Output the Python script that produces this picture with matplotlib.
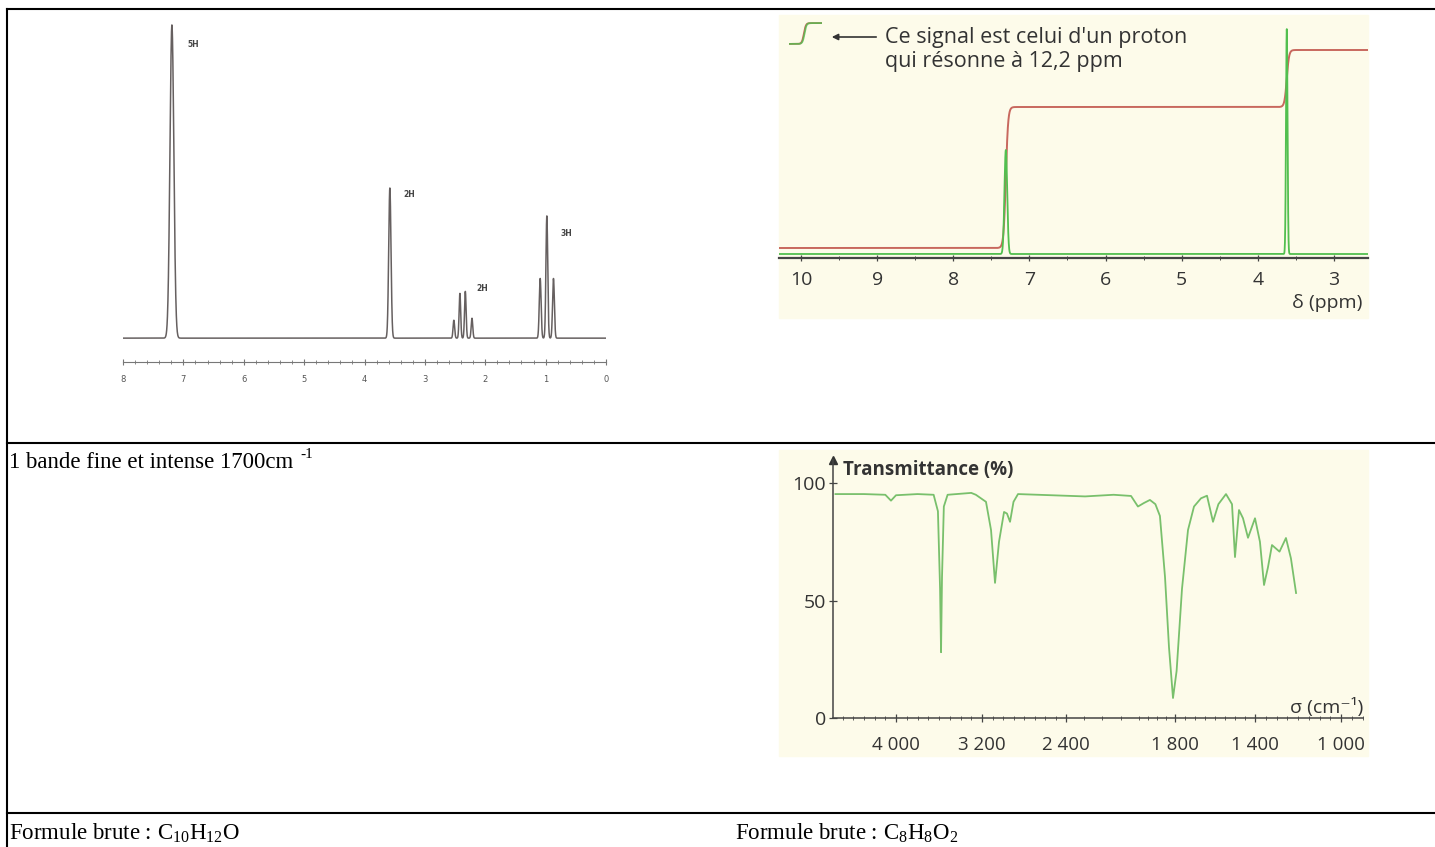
import numpy as np
import matplotlib
matplotlib.use("Agg")
import matplotlib.pyplot as plt
from matplotlib.patches import Rectangle
from matplotlib.ticker import FixedLocator, MultipleLocator

plt.rcParams["mathtext.fontset"] = "custom"
plt.rcParams["mathtext.rm"] = "Liberation Serif"
plt.rcParams["mathtext.it"] = "Liberation Serif:italic"

# --- NMR spectrum 1 (C10H12O) : peak positions (ppm) and heights
nmr1_ppm = [7.19, 3.58, 2.52, 2.42, 2.33, 2.22, 1.09, 0.98, 0.87]
nmr1_height = [315, 151, 18, 45, 47, 20, 60, 123, 60]
nmr1_width = [0.032, 0.019, 0.013, 0.013, 0.013, 0.013, 0.015, 0.015, 0.015]
nmr1_labels = ["5H", "2H", "2H", "3H"]
nmr1_label_ppm = [6.84, 3.26, 2.05, 0.65]
nmr1_label_h = [295, 144, 50, 105]

# --- NMR spectrum 2 (C8H8O2) : peaks and integration levels
nmr2_ppm = [7.31, 3.62]
nmr2_height = [104, 225]
nmr2_width = [0.018, 0.010]
nmr2_base = 4
nmr2_levels = [10, 151, 208]
nmr2_ticks = [10, 9, 8, 7, 6, 5, 4, 3]

# --- IR spectrum (C8H8O2) : wavenumber (cm-1) / transmittance (%)
ir_sigma = [4567, 4300, 4100, 4047, 4000, 3800, 3650, 3610, 3590, 3581, 3572,
            3555, 3520, 3300, 3257, 3162, 3114, 3076, 3038, 2990, 2962, 2933,
            2900, 2857, 2295, 2138, 2042, 2004, 1971, 1938, 1908, 1883, 1855,
            1833, 1811, 1792, 1765, 1735, 1705, 1670, 1640, 1610, 1583, 1545,
            1515, 1500, 1480, 1460, 1435, 1400, 1377, 1358, 1340, 1321, 1286,
            1256, 1233, 1209]
ir_trans = [95.3, 95.3, 95.0, 92.5, 94.8, 95.3, 95.0, 88, 55, 28, 60,
            90, 95, 95.8, 95, 92, 80, 57.5, 75, 87.7, 87, 83.5,
            92, 95.3, 94.3, 95, 94.5, 90, 91.5, 92.8, 91, 86, 60,
            30, 8.5, 20, 55, 80, 90, 93.5, 94.6, 83.5, 91, 95.3,
            91, 68.5, 88.5, 85, 76.7, 85, 75, 56.6, 64, 73.6, 70.8,
            76.6, 68, 53.2]
ir_labels = [4000, 3200, 2400, 1800, 1400, 1000]

W, H = 1435, 847
fig = plt.figure(figsize=(W / 100, H / 100), dpi=100)
bg = fig.add_axes([0, 0, 1, 1])
bg.set_xlim(0, W)
bg.set_ylim(H, 0)
bg.axis("off")


def px_axes(x0, y0, x1, y1):
    ax = fig.add_axes([x0 / W, 1 - y1 / H, (x1 - x0) / W, (y1 - y0) / H])
    ax.patch.set_alpha(0)
    for s in ["top", "left", "right"]:
        ax.spines[s].set_visible(False)
    ax.set_yticks([])
    return ax


# table lines
lw_tab = 1.5
bg.plot([7, W], [9, 9], color="black", lw=lw_tab)
bg.plot([7, 7], [9, H], color="black", lw=lw_tab)
bg.plot([7, W], [443, 443], color="black", lw=lw_tab)
bg.plot([7, W], [813, 813], color="black", lw=lw_tab)

serif = "Liberation Serif"
bg.text(9, 462, "1 bande fine et intense 1700cm", fontsize=16.5,
        family=serif, va="center", ha="left")
bg.text(300, 455, "-1", fontsize=11, family=serif, va="center", ha="left")
bg.text(9, 833, r"Formule brute : C$_{10}$H$_{12}$O", fontsize=16.5,
        family=serif, va="center", ha="left")
bg.text(735, 833, r"Formule brute : C$_{8}$H$_{8}$O$_{2}$", fontsize=16.5,
        family=serif, va="center", ha="left")

# ---------------- panel 1 : NMR C10H12O
ax1 = px_axes(123, 18, 606, 362)
x1 = np.linspace(8.0, 0.0, 5000)
y1 = np.zeros_like(x1)
for c, h, w in zip(nmr1_ppm, nmr1_height, nmr1_width):
    y1 += h * np.exp(-0.5 * ((x1 - c) / w) ** 2)
ax1.plot(x1, y1, color="#666060", lw=1.1)
ax1.set_xlim(8, 0)
ax1.set_ylim(-24, 322)
ax1.spines["bottom"].set_color("#777777")
ax1.xaxis.set_major_locator(MultipleLocator(1))
ax1.xaxis.set_minor_locator(MultipleLocator(0.2))
ax1.tick_params(axis="x", which="major", direction="inout", length=5,
                width=0.8, color="#777777", labelsize=6, labelcolor="#555555", pad=7)
ax1.tick_params(axis="x", which="minor", direction="inout", length=3,
                width=0.6, color="#777777")
for lab, p, h in zip(nmr1_labels, nmr1_label_ppm, nmr1_label_h):
    ax1.text(p, h, lab, fontsize=5.5, color="#444444", ha="center",
             va="center", fontweight="bold")

# ---------------- panel 2 : NMR C8H8O2 with integration
cream = "#fdfbea"
bg.add_patch(Rectangle((779, 15), 589, 303, color=cream, zorder=0))
ax2 = px_axes(779, 15, 1368, 258)
x2 = np.linspace(10.3, 2.55, 6000)
green = np.full_like(x2, nmr2_base, dtype=float)
red = np.full_like(x2, nmr2_levels[0], dtype=float)
for i, (c, h, w) in enumerate(zip(nmr2_ppm, nmr2_height, nmr2_width)):
    green += h * np.exp(-0.5 * ((x2 - c) / w) ** 2)
    step = nmr2_levels[i + 1] - nmr2_levels[i]
    red += step * 0.5 * (1 + np.tanh((c - x2) / 0.03))
ax2.plot(x2, red, color="#c8685e", lw=1.4)
ax2.plot(x2, green, color="#52bf4f", lw=1.3)
ppm_per_px = 1 / 76.1
ax2.set_xlim(10 + 22 * ppm_per_px, 3 - 34 * ppm_per_px)
ax2.set_ylim(0, 243)
ax2.spines["bottom"].set_color("#444444")
ax2.spines["bottom"].set_linewidth(1.6)
ax2.set_xticks(nmr2_ticks)
ax2.xaxis.set_minor_locator(MultipleLocator(0.5))
ax2.tick_params(axis="x", which="major", direction="inout", length=5,
                width=0.9, color="#444444", labelsize=14, labelcolor="#333333", pad=7)
ax2.tick_params(axis="x", which="minor", direction="inout", length=3,
                width=0.7, color="#444444")
for t in ax2.get_xticklabels():
    t.set_family("Open Sans")
bg.text(1362, 303, "δ (ppm)", fontsize=14, family=["Open Sans", "DejaVu Sans"],
        color="#333333", ha="right", va="center")

# legend icon and note
axi = px_axes(789, 21, 822, 46)
xi = np.linspace(0, 1, 200)
axi.plot(xi, 0.5 * (1 + np.tanh((xi - 0.45) / 0.06)), color="#c8685e", lw=1.3)
axi.plot(xi, 0.5 * (1 + np.tanh((xi - 0.47) / 0.06)), color="#52bf4f", lw=1.3, alpha=0.8)
axi.set_xlim(0, 1)
axi.set_ylim(-0.1, 1.1)
axi.axis("off")
bg.annotate("", xy=(829, 37), xytext=(879, 37),
            arrowprops=dict(arrowstyle="-|>", color="#333333", lw=1.2,
                            mutation_scale=9))
bg.text(885, 37, "Ce signal est celui d'un proton", fontsize=15.5,
        family="Open Sans", color="#333333", va="center", ha="left")
bg.text(885, 61, "qui résonne à 12,2 ppm", fontsize=15.5,
        family="Open Sans", color="#333333", va="center", ha="left")

# ---------------- panel 3 : IR spectrum
bg.add_patch(Rectangle((779, 450), 589, 306, color=cream, zorder=0))
ax3 = px_axes(833, 460, 1363, 718)
ax3.spines["left"].set_visible(True)
# axis geometry (non-linear wavenumber axis): wavenumber -> position along axis
axis_sigma = np.array([898, 1000, 1400, 1800, 2400, 3200, 4000, 4590], dtype=float)
axis_pos = -np.array([1363, 1341, 1255, 1175, 1066, 982, 896, 833], dtype=float)


def fwd(s):
    return np.interp(np.asarray(s, dtype=float), axis_sigma, axis_pos)


def inv(u):
    return np.interp(np.asarray(u, dtype=float), axis_pos, axis_sigma)


ax3.set_xscale("function", functions=(fwd, inv))
ax3.plot(ir_sigma, ir_trans, color="#79c06c", lw=1.3)
ax3.set_xlim(4590, 898)
ax3.set_ylim(0, 109.8)
for s in ["left", "bottom"]:
    ax3.spines[s].set_color("#444444")
    ax3.spines[s].set_linewidth(1.1)
ax3.set_xticks(ir_labels)
ax3.set_xticklabels([f"{v:,}".replace(",", " ") for v in ir_labels])
minor = list(range(4500, 2000, -100)) + list(range(2000, 899, -50))
ax3.xaxis.set_minor_locator(FixedLocator(minor))
ax3.tick_params(axis="x", which="major", direction="inout", length=6, width=0.9,
                color="#444444", labelsize=13.5, labelcolor="#333333", pad=10)
ax3.tick_params(axis="x", which="minor", direction="inout", length=3, width=0.6,
                color="#444444")
ax3.set_yticks([0, 50, 100])
ax3.tick_params(axis="y", direction="inout", length=6, width=0.9, color="#444444",
                labelsize=14, labelcolor="#333333", pad=2)
for t in ax3.get_xticklabels() + ax3.get_yticklabels():
    t.set_family("Open Sans")
ax3.set_xlim(4590, 898)
ax3.plot([0], [1], marker="^", color="#333333", markersize=6,
         transform=ax3.transAxes, clip_on=False)
bg.text(843, 470, "Transmittance (%)", fontsize=13.5, family="Open Sans",
        fontweight="bold", color="#333333", ha="left", va="center")
bg.text(1363, 707, "σ (cm⁻¹)", fontsize=14, family=["Open Sans", "DejaVu Sans"],
        color="#333333", ha="right", va="center")

fig.savefig("out.png", dpi=100)
